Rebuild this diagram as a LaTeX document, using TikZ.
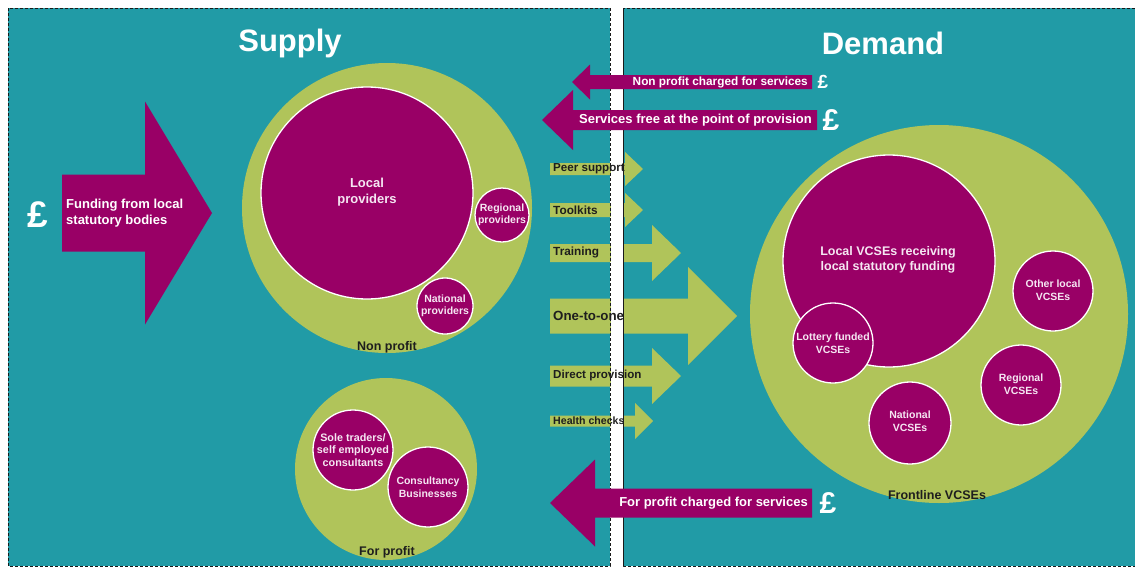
\documentclass[tikz,border=0pt]{standalone}
\usepackage{fontspec}
\setmainfont{Liberation Sans}
\definecolor{tealc}{RGB}{33,155,166}
\definecolor{magc}{RGB}{153,0,102}
\definecolor{greenc}{RGB}{176,196,90}
\definecolor{darkc}{RGB}{30,30,30}
\definecolor{ctextc}{RGB}{245,230,242}
\newcommand\myfs[2]{\fontsize{#1}{#2}\selectfont}
\newcommand\myRArrow[7]{% color, x0, xbase, xtip, ymid, bodyhalf, headhalf
  \fill[#1] (#2,{#5-#6}) -- (#3,{#5-#6}) -- (#3,{#5-#7}) -- (#4,#5) -- (#3,{#5+#7}) -- (#3,{#5+#6}) -- (#2,{#5+#6}) -- cycle;}
\begin{document}
\begin{tikzpicture}[x=1pt,y=-1pt,
  bigc/.style={circle,fill=greenc,inner sep=0pt,minimum size=#1},
  magcirc/.style={circle,fill=magc,draw=white,line width=1.3pt,inner sep=0pt,minimum size=#1},
  ctext/.style={text=ctextc,font=\bfseries,align=center,inner sep=0pt},
  lbl/.style={text=darkc,font=\bfseries\myfs{12.5}{15},inner sep=0pt},
  gtext/.style={text=darkc,font=\bfseries,anchor=west,inner sep=0pt},
  mtext/.style={text=white,font=\bfseries\myfs{13}{15},anchor=east,inner sep=0pt},
  pound/.style={text=white,font=\bfseries,inner sep=0pt},
  title/.style={text=white,font=\bfseries\myfs{31}{36},inner sep=0pt},
  dashline/.style={draw=black!90,line width=1pt,dash pattern=on 3pt off 2pt}]
\useasboundingbox (0,0) rectangle (1135,568);
\fill[white] (0,0) rectangle (1135,568);
\fill[tealc] (8,8) rectangle (610,566);
\fill[tealc] (623,8) rectangle (1135,566);

% titles
\node[title] (supply) at (290,43) {Supply};
\node[title] (demand) at (883,43) {Demand};

% supply: non profit
\node[bigc=290] (np) at (387,208) {};
\node[magcirc=212] (localp) at (367,193) {};
\node[magcirc=54] (regp) at (502,215) {};
\node[magcirc=56] (natp) at (445,306) {};
% supply: for profit
\node[bigc=182] (fp) at (386,469) {};
\node[magcirc=80] (sole) at (353,450) {};
\node[magcirc=80] (cons) at (428,487) {};

% demand
\node[bigc=378] (front) at (939,314) {};
\node[magcirc=212] (localv) at (889,261) {};
\node[magcirc=80] (lott) at (833,343) {};
\node[magcirc=80] (otherv) at (1053,291) {};
\node[magcirc=80] (regv) at (1021,385) {};
\node[magcirc=82] (natv) at (910,423) {};

% funding arrow
\myRArrow{magc}{62}{145}{212}{213}{38.5}{111.5}
% green right arrows
\myRArrow{greenc}{550}{625}{643}{169}{6}{17}
\myRArrow{greenc}{550}{625}{643}{210}{7}{17}
\myRArrow{greenc}{550}{652}{681}{253}{9}{28}
\myRArrow{greenc}{550}{688}{737}{316}{17.5}{49}
\myRArrow{greenc}{550}{652}{681}{376}{10.5}{28}
\myRArrow{greenc}{550}{635}{653}{421}{5.5}{18}

% borders and gap strip
\draw[dashline] (8,8) rectangle (610,566);
\draw[dashline] (1135,8) -- (623,8) -- (623,566) -- (1135,566);
\fill[white] (610.5,8.5) rectangle (622.5,565.5);
\draw[dashline] (610,8) -- (610,566);
\draw[dashline] (623,8) -- (623,566);

% magenta left arrows (on top of the gap strip)
\myRArrow{magc}{812}{590}{572}{82}{7}{17.5}
\myRArrow{magc}{817}{573}{542}{120}{10}{30}
\myRArrow{magc}{812}{595}{550}{503}{14.5}{43.5}

% circle texts
\node[ctext,font=\bfseries\myfs{13}{16.5}] (tlocalp) at (367,192) {Local\\providers};
\node[ctext,font=\bfseries\myfs{10.5}{12.5}] (tregp) at (502,215) {Regional\\providers};
\node[ctext,font=\bfseries\myfs{10.5}{12.5}] (tnatp) at (445,306) {National\\providers};
\node[ctext,font=\bfseries\myfs{10.8}{12.5}] (tsole) at (353,450) {Sole traders/\\self employed\\consultants};
\node[ctext,font=\bfseries\myfs{10.5}{12.5}] (tcons) at (428,487) {Consultancy\\Businesses};
\node[ctext,font=\bfseries\myfs{12.5}{15.5}] (tlocalv) at (888,260) {Local VCSEs receiving\\local statutory funding};
\node[ctext,font=\bfseries\myfs{10.5}{12.5}] (tlott) at (833,343) {Lottery funded\\VCSEs};
\node[ctext,font=\bfseries\myfs{10.5}{12.5}] (tother) at (1053,290) {Other local\\VCSEs};
\node[ctext,font=\bfseries\myfs{10.5}{12.5}] (tregv) at (1021,384) {Regional\\VCSEs};
\node[ctext,font=\bfseries\myfs{10.5}{12.5}] (tnatv) at (910,421) {National\\VCSEs};

% group labels
\node[lbl] (lnp) at (387,347) {Non profit};
\node[lbl] (lfp) at (387,552) {For profit};
\node[lbl] (lfront) at (937,495) {Frontline VCSEs};

% funding text
\node[text=white,font=\bfseries\myfs{13}{16.5},align=left,anchor=west,inner sep=0pt] (tfund) at (66,213) {Funding from local\\statutory bodies};
\node[pound,font=\bfseries\myfs{37}{40}] (p1) at (38,215) {£};

% magenta arrow texts
\node[mtext,font=\bfseries\myfs{11.8}{14}] (tnpc) at (808,82) {Non profit charged for services};
\node[mtext] (tfree) at (812,120) {Services free at the point of provision};
\node[mtext] (tfpc) at (808,503) {For profit charged for services};
\node[pound,font=\bfseries\myfs{19}{22}] (p2) at (823,82) {£};
\node[pound,font=\bfseries\myfs{30}{34}] (p3) at (831,120) {£};
\node[pound,font=\bfseries\myfs{30}{34}] (p4) at (828,503) {£};

% green arrow texts
\node[gtext,font=\bfseries\myfs{11.6}{14}] (tpeer) at (553,169) {Peer support};
\node[gtext,font=\bfseries\myfs{11.8}{14}] (ttool) at (553,210) {Toolkits};
\node[gtext,font=\bfseries\myfs{11.8}{14}] (ttrain) at (553,252) {Training};
\node[gtext,font=\bfseries\myfs{13.3}{16}] (tone) at (553,316) {One-to-one};
\node[gtext,font=\bfseries\myfs{11.6}{14}] (tdirect) at (553,375) {Direct provision};
\node[gtext,font=\bfseries\myfs{10.6}{13}] (thealth) at (553,421) {Health checks};
\end{tikzpicture}
\end{document}
